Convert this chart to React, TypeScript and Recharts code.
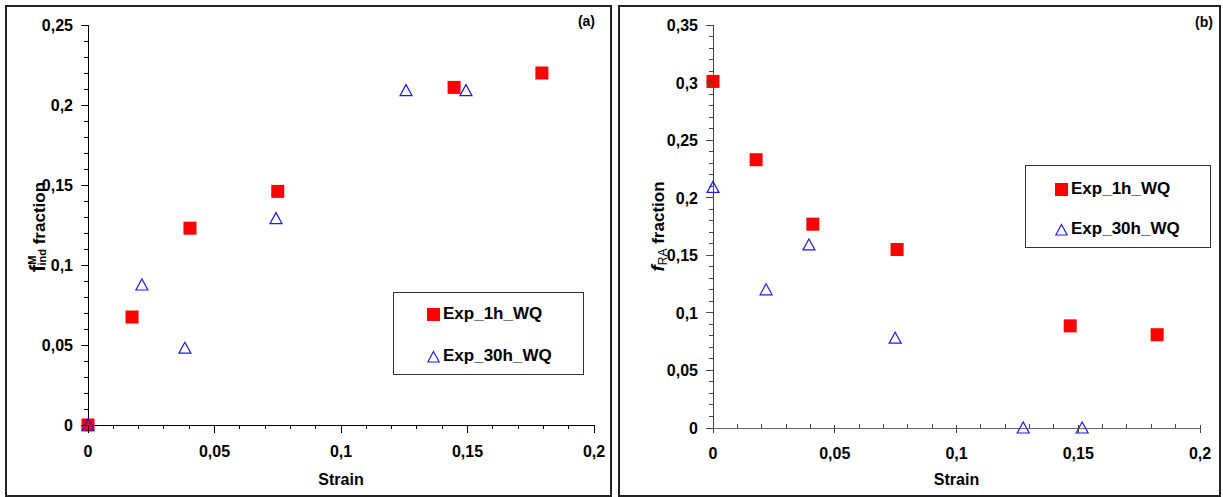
import React from "react";
import { ScatterChart, Scatter, XAxis, YAxis, Legend } from "recharts";

const SERIES = ["Exp_1h_WQ", "Exp_30h_WQ"];

// (a) induced martensite fraction vs strain
const STRAIN_A_1H = [0, 0.0174, 0.0403, 0.075, 0.1447, 0.1794];
const FIND_1H = [0, 0.0675, 0.123, 0.146, 0.211, 0.22];
const STRAIN_A_30H = [0, 0.0213, 0.0383, 0.0743, 0.1257, 0.1494];
const FIND_30H = [0, 0.0875, 0.048, 0.129, 0.209, 0.209];

// (b) retained austenite fraction vs strain
const STRAIN_B_1H = [0, 0.0177, 0.041, 0.0756, 0.1467, 0.1824];
const FRA_1H = [0.301, 0.233, 0.177, 0.155, 0.0887, 0.081];
const STRAIN_B_30H = [0, 0.0218, 0.0394, 0.0748, 0.1274, 0.1516];
const FRA_30H = [0.209, 0.12, 0.159, 0.078, 0, 0];

const X_MAJOR = [0, 0.05, 0.1, 0.15, 0.2];
const Y_MAJOR_A = [0, 0.05, 0.1, 0.15, 0.2, 0.25];
const Y_MAJOR_B = [0, 0.05, 0.1, 0.15, 0.2, 0.25, 0.3, 0.35];

const FONT = '"Liberation Sans", Arial, Helvetica, sans-serif';
const RED = "#ff0000";
const BLUE = "#1a1aff";

const toPoints = (xs: number[], ys: number[]) =>
  xs.map((x, i) => ({ x, y: ys[i] }));

// minor ticks every 0.01
const steps = (max: number) =>
  Array.from({ length: Math.round(max * 100) + 1 }, (_, i) => i / 100);

const isMajor = (v: number, majors: number[]) =>
  majors.some((m) => Math.abs(m - v) < 1e-6);
const fmt = (v: number) => String(v).replace(".", ",");

function makeYTick(majors: number[], color: string) {
  return (props: any) => {
    const { x, y, payload } = props;
    const major = isMajor(payload.value, majors);
    return (
      <g>
        <line
          x1={x - (major ? 7 : 4)}
          x2={x}
          y1={y}
          y2={y}
          stroke={color}
          shapeRendering="crispEdges"
        />
        {major && (
          <text
            x={x - 15}
            y={y + 6}
            textAnchor="end"
            fontSize={16}
            fontWeight="bold"
            fontFamily={FONT}
            fill="#000"
          >
            {fmt(payload.value)}
          </text>
        )}
      </g>
    );
  };
}

function makeXTick(
  majors: number[],
  color: string,
  majorSpan: [number, number],
  minorSpan: [number, number],
  labelDy: number
) {
  return (props: any) => {
    const { x, y, payload } = props;
    const major = isMajor(payload.value, majors);
    const span = major ? majorSpan : minorSpan;
    return (
      <g>
        <line
          x1={x}
          x2={x}
          y1={y + span[0]}
          y2={y + span[1]}
          stroke={color}
          shapeRendering="crispEdges"
        />
        {major && (
          <text
            x={x}
            y={y + labelDy}
            textAnchor="middle"
            fontSize={16}
            fontWeight="bold"
            fontFamily={FONT}
            fill="#000"
          >
            {fmt(payload.value)}
          </text>
        )}
      </g>
    );
  };
}

const squareShape = (props: any) => (
  <rect x={props.cx - 6.5} y={props.cy - 6.5} width={13} height={13} fill={RED} />
);

const triangleShape = (props: any) => (
  <polygon
    points={`${props.cx},${props.cy - 6} ${props.cx + 6},${props.cy + 5} ${props.cx - 6},${props.cy + 5}`}
    fill="none"
    stroke={BLUE}
    strokeWidth={1.2}
  />
);

const XTitle = (props: any) => {
  const { viewBox, dy } = props;
  return (
    <text
      x={viewBox.x + viewBox.width / 2}
      y={viewBox.y + dy}
      textAnchor="middle"
      fontSize={16}
      fontWeight="bold"
      fontFamily={FONT}
      fill="#000"
    >
      Strain
    </text>
  );
};

const YTitleA = (props: any) => {
  const { viewBox } = props;
  const cx = viewBox.x + 17;
  const cy = viewBox.y + viewBox.height / 2 + 2;
  return (
    <text
      x={cx}
      y={cy}
      transform={`rotate(-90 ${cx} ${cy})`}
      textAnchor="middle"
      fontFamily={FONT}
      fontWeight="bold"
      fontSize={17}
      fill="#000"
    >
      <tspan fontSize={22}>f</tspan>
      <tspan fontSize={11} dy={-9}>M</tspan>
      <tspan fontSize={11} dx={-10} dy={10}>ind</tspan>
      <tspan dy={-1}> fraction</tspan>
    </text>
  );
};

const YTitleB = (props: any) => {
  const { viewBox } = props;
  const cx = viewBox.x + 11;
  const cy = viewBox.y + viewBox.height / 2;
  return (
    <text
      x={cx}
      y={cy}
      transform={`rotate(-90 ${cx} ${cy})`}
      textAnchor="middle"
      fontFamily={FONT}
      fontWeight="bold"
      fontSize={17}
      fill="#000"
    >
      <tspan fontStyle="italic" fontSize={19}>f</tspan>
      <tspan fontWeight="normal" fontSize={12} dy={3}>RA</tspan>
      <tspan dy={-3}> fraction</tspan>
    </text>
  );
};

function makeLegend(rows: number[], markerX: number) {
  return (props: any) => {
    const payload = props.payload || [];
    return (
      <div
        style={{
          position: "relative",
          width: "100%",
          height: "100%",
          border: "1px solid #333",
          boxSizing: "border-box",
          background: "#fff",
          fontFamily: FONT,
        }}
      >
        {payload.map((entry: any, i: number) => (
          <div
            key={entry.value}
            style={{
              position: "absolute",
              left: markerX,
              top: rows[i] - 11,
              height: 22,
              display: "flex",
              alignItems: "center",
              fontSize: 17,
              fontWeight: "bold",
              color: "#000",
              whiteSpace: "nowrap",
            }}
          >
            <svg width={13} height={13} style={{ marginRight: 3 }}>
              {entry.value === SERIES[0] ? (
                <rect x={0} y={0} width={13} height={13} fill={RED} />
              ) : (
                <polygon points="6.5,1.5 12.2,12 0.8,12" fill="none" stroke={BLUE} strokeWidth={1.2} />
              )}
            </svg>
            {entry.value}
          </div>
        ))}
      </div>
    );
  };
}

const panelBorder = (left: number, width: number): React.CSSProperties => ({
  position: "absolute",
  left,
  top: 5,
  width,
  height: 492,
  border: "2px solid #222",
  boxSizing: "border-box",
});

export default function App() {
  return (
    <div
      style={{
        position: "absolute",
        left: 0,
        top: 0,
        width: 1223,
        height: 497,
        background: "#fff",
        overflow: "hidden",
      }}
    >
      <div style={panelBorder(5, 607)} />
      <div style={panelBorder(618, 603)} />

      {/* (a) */}
      <div style={{ position: "absolute", left: 0, top: 0 }}>
        <ScatterChart
          width={612}
          height={497}
          margin={{ top: 25, right: 18, bottom: 32, left: 28 }}
        >
          <XAxis
            type="number"
            dataKey="x"
            domain={[0, 0.2]}
            ticks={steps(0.2)}
            interval={0}
            tickSize={0}
            tickMargin={0}
            tickLine={false}
            height={40}
            axisLine={{ stroke: "#000", shapeRendering: "crispEdges" }}
            tick={makeXTick(X_MAJOR, "#000", [0, 8], [0, 4], 32)}
            label={<XTitle dy={60} />}
          />
          <YAxis
            type="number"
            dataKey="y"
            domain={[0, 0.25]}
            ticks={steps(0.25)}
            interval={0}
            tickSize={0}
            tickMargin={0}
            tickLine={false}
            width={60}
            axisLine={{ stroke: "#000", shapeRendering: "crispEdges" }}
            tick={makeYTick(Y_MAJOR_A, "#000")}
            label={<YTitleA />}
          />
          <Legend
            layout="vertical"
            align="center"
            verticalAlign="middle"
            wrapperStyle={{ left: 393, top: 292, width: 191, height: 83 }}
            content={makeLegend([21, 63], 33)}
          />
          <Scatter
            name={SERIES[0]}
            data={toPoints(STRAIN_A_1H, FIND_1H)}
            fill={RED}
            shape={squareShape}
            isAnimationActive={false}
          />
          <Scatter
            name={SERIES[1]}
            data={toPoints(STRAIN_A_30H, FIND_30H)}
            fill={BLUE}
            shape={triangleShape}
            isAnimationActive={false}
          />
        </ScatterChart>
      </div>

      {/* (b) */}
      <div style={{ position: "absolute", left: 612, top: 0 }}>
        <ScatterChart
          width={611}
          height={497}
          margin={{ top: 25, right: 23, bottom: 29, left: 41 }}
        >
          <XAxis
            type="number"
            dataKey="x"
            domain={[0, 0.2]}
            ticks={steps(0.2)}
            interval={0}
            tickSize={0}
            tickMargin={0}
            tickLine={false}
            height={40}
            axisLine={{ stroke: "#666", shapeRendering: "crispEdges" }}
            tick={makeXTick(X_MAJOR, "#444", [-3, 5], [-4, 0], 31)}
            label={<XTitle dy={57} />}
          />
          <YAxis
            type="number"
            dataKey="y"
            domain={[0, 0.35]}
            ticks={steps(0.35)}
            interval={0}
            tickSize={0}
            tickMargin={0}
            tickLine={false}
            width={60}
            axisLine={{ stroke: "#444", shapeRendering: "crispEdges" }}
            tick={makeYTick(Y_MAJOR_B, "#444")}
            label={<YTitleB />}
          />
          <Legend
            layout="vertical"
            align="center"
            verticalAlign="middle"
            wrapperStyle={{ left: 413, top: 165, width: 186, height: 83 }}
            content={makeLegend([23, 63], 29)}
          />
          <Scatter
            name={SERIES[0]}
            data={toPoints(STRAIN_B_1H, FRA_1H)}
            fill={RED}
            shape={squareShape}
            isAnimationActive={false}
          />
          <Scatter
            name={SERIES[1]}
            data={toPoints(STRAIN_B_30H, FRA_30H)}
            fill={BLUE}
            shape={triangleShape}
            isAnimationActive={false}
          />
        </ScatterChart>
      </div>

      <svg
        width={1223}
        height={497}
        style={{ position: "absolute", left: 0, top: 0, pointerEvents: "none" }}
      >
        <text x={595} y={26} textAnchor="end" fontSize={14} fontWeight="bold" fontFamily={FONT}>
          (a)
        </text>
        <text x={1213} y={27} textAnchor="end" fontSize={14} fontWeight="bold" fontFamily={FONT}>
          (b)
        </text>
      </svg>
    </div>
  );
}
